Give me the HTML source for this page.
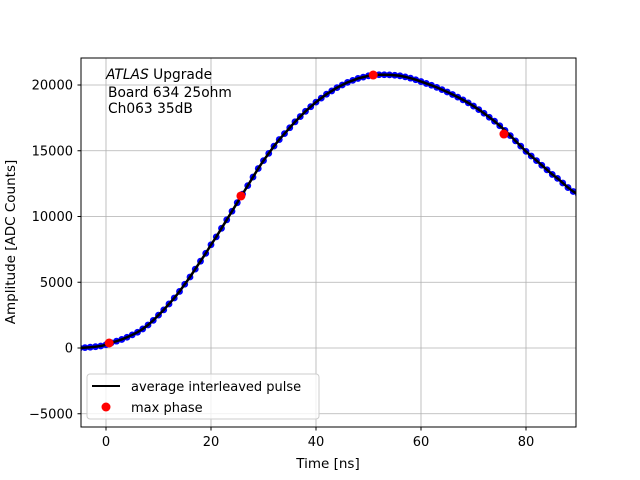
<!DOCTYPE html>
<html><head><meta charset="utf-8"><style>
body{margin:0;background:#fff;}
svg{display:block;font-family:"DejaVu Sans","Liberation Sans",sans-serif;}
</style></head><body>
<svg id="chart" width="640" height="480">
<rect width="640" height="480" fill="#fff"/>
<g id="grid"></g>
<clipPath id="clip"><rect x="81" y="58" width="495" height="369"/></clipPath>
<g id="series" clip-path="url(#clip)"></g>
<rect x="81" y="58" width="495" height="369" fill="none" stroke="#000" stroke-width="1"/>
<g id="ticks"></g>
<text x="328" y="468" font-size="13.5" text-anchor="middle">Time [ns]</text>
<text transform="translate(15,242) rotate(-90)" font-size="13.5" text-anchor="middle">Amplitude [ADC Counts]</text>
<g font-size="13.8">
<text x="106" y="79"><tspan font-style="italic">ATLAS</tspan> Upgrade</text>
<text x="108" y="97">Board 634 25ohm</text>
<text x="108" y="113">Ch063 35dB</text>
</g>
<g>
<rect x="87" y="374" width="232" height="45" rx="3" fill="#fff" fill-opacity="0.8" stroke="#ccc"/>
<line x1="92" y1="386" x2="120" y2="386" stroke="#000" stroke-width="2"/>
<text x="131" y="391" font-size="13">average interleaved pulse</text>
<circle cx="106" cy="407" r="4.5" fill="red"/>
<text x="131" y="412" font-size="13">max phase</text>
</g>
</svg>
<script>
const times = [];
for (let t = -5; t <= 90; t++) times.push(t);
const amplitudes = [0,30,60,100,150,250,400,520,650,820,1000,1200,1450,1750,2100,2500,2900,3350,3800,4300,4850,5400,6000,6600,7200,7850,8450,9100,9750,10400,11050,11700,12350,13000,13650,14250,14800,15350,15850,16300,16750,17200,17600,18000,18350,18700,19000,19300,19550,19800,20000,20200,20350,20500,20600,20700,20750,20780,20780,20770,20740,20700,20620,20520,20400,20260,20120,19980,19820,19650,19470,19280,19080,18870,18640,18400,18130,17850,17550,17250,16900,16550,16150,15750,15350,14950,14600,14250,13900,13550,13200,12900,12550,12200,11900,11650];
const maxPhaseT = [0.6, 25.7, 50.9, 75.8];
const maxPhaseV = [380, 11560, 20760, 16270];
const xTicks = [0, 20, 40, 60, 80];
const yTicks = [-5000, 0, 5000, 10000, 15000, 20000];

const X = t => 106 + 5.25 * t;
const Y = v => 348 - 0.01315 * v;
const NS = "http://www.w3.org/2000/svg";
const mk = (tag, attrs, parent) => { const e = document.createElementNS(NS, tag); for (const k in attrs) e.setAttribute(k, attrs[k]); parent.appendChild(e); return e; };
const grid = document.getElementById('grid'), ticks = document.getElementById('ticks'), series = document.getElementById('series');

xTicks.forEach(t => {
  const g = mk('line', {x1: X(t), x2: X(t), y1: 58, y2: 427, stroke: '#b0b0b0', 'stroke-width': 0.8}, grid);
  
  
  const tk = mk('line', {x1: X(t), x2: X(t), y1: 427, y2: 430.5, stroke: '#000'}, ticks);
  
  
  const lb = mk('text', {x: X(t), y: 446, 'font-size': 13, 'text-anchor': 'middle'}, ticks);
  lb.textContent = String(t);
  
  
});
yTicks.forEach(v => {
  const g = mk('line', {x1: 81, x2: 576, y1: Y(v), y2: Y(v), stroke: '#b0b0b0', 'stroke-width': 0.8}, grid);
  
  
  const tk = mk('line', {x1: 77.5, x2: 81, y1: Y(v), y2: Y(v), stroke: '#000'}, ticks);
  
  
  const lb = mk('text', {x: 73, y: Y(v) + 4.5, 'font-size': 13, 'text-anchor': 'end'}, ticks);
  lb.textContent = v < 0 ? '\u2212' + Math.abs(v) : String(v);
  
  
});
amplitudes.forEach((v, i) => {
  const c = mk('circle', {cx: X(times[i]), cy: Y(v), r: 3.4, fill: '#0000ff'}, series);
  
  
});
const line = mk('polyline', {points: amplitudes.map((v, i) => X(times[i]) + ',' + Y(v)).join(' '), fill: 'none', stroke: '#000', 'stroke-width': 2.5}, series);


maxPhaseT.forEach((t, i) => {
  const c = mk('circle', {cx: X(t), cy: Y(maxPhaseV[i]), r: 4.5, fill: 'red'}, series);
  
  
});
</script>
</body></html>
